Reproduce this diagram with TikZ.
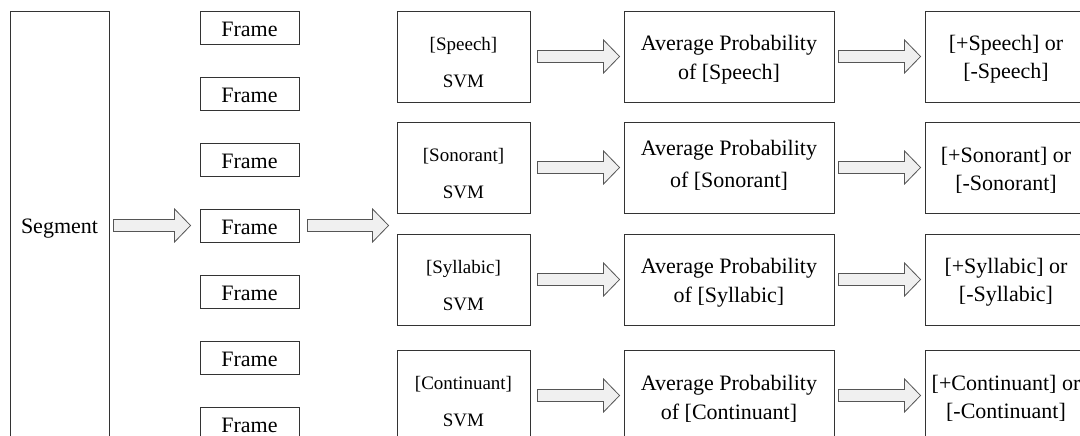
\documentclass[tikz,border=0pt]{standalone}
\usepackage{fontspec}
\setmainfont{Liberation Serif}
\usetikzlibrary{calc}
\definecolor{boxline}{HTML}{333333}
\definecolor{arrline}{HTML}{555555}
\definecolor{arrfill}{HTML}{F0F0F0}
\tikzset{
  box/.style={draw=boxline, line width=0.9pt, rectangle, inner sep=0pt, align=center,
              font=\fontsize{22}{29}\selectfont},
  segbox/.style={box, minimum width=99pt, minimum height=429pt, text height=15pt, text depth=0pt},
  framebox/.style={box, minimum width=99pt, minimum height=33pt, text height=18.5pt, text depth=0pt},
  svmbox/.style={box, minimum width=133pt, minimum height=91pt},
  avgbox/.style={box, minimum width=210pt, minimum height=91pt},
  resbox/.style={box, minimum width=162pt, minimum height=91pt},
  lab/.style={inner sep=0pt, align=center},
  svmlab/.style={lab, font=\fontsize{19}{37}\selectfont, yshift=-6pt},
  avglab/.style={lab, font=\fontsize{22}{29}\selectfont, yshift=-3pt},
  avglabwide/.style={lab, font=\fontsize{22}{32}\selectfont, yshift=2.5pt},
  reslab/.style={lab, font=\fontsize{22}{28}\selectfont, yshift=-2.5pt},
  barrow/.style={draw=arrline, fill=arrfill, line width=0.8pt, line join=miter}
}
\newcommand\blockarrow[4]{%
  \draw[barrow] let \p1=(#1.east), \p2=(#2.west) in
    ($(\x1,\y1)+(#3pt,6pt)$) -- ($(\x2,\y1)+(-#4pt-16pt,6pt)$) -- ($(\x2,\y1)+(-#4pt-16pt,16.5pt)$)
    -- ($(\x2,\y1)+(-#4pt,0pt)$) -- ($(\x2,\y1)+(-#4pt-16pt,-16.5pt)$) -- ($(\x2,\y1)+(-#4pt-16pt,-6pt)$)
    -- ($(\x1,\y1)+(#3pt,-6pt)$) -- cycle;}
\begin{document}
\begin{tikzpicture}[x=1pt, y=-1pt]
\useasboundingbox (0,0) rectangle (1080,436);
\clip (0,0) rectangle (1080,436);
\fill[white] (0,0) rectangle (1080,436);
% segment
\node[segbox] (seg) at (59.5,225.5) {Segment};
% frames
\foreach \i in {1,...,7} {
  \node[framebox] (f\i) at (249.5,{27.5+66*(\i-1)}) {Frame};
}
% SVM column
\node[svmbox, label={[svmlab]center:{[Speech]\\{}SVM}}] (s1) at (463.5,56.5) {};
\node[svmbox, label={[svmlab]center:{[Sonorant]\\{}SVM}}] (s2) at (463.5,167.5) {};
\node[svmbox, label={[svmlab]center:{[Syllabic]\\{}SVM}}] (s3) at (463.5,279.5) {};
\node[svmbox, label={[svmlab]center:{[Continuant]\\{}SVM}}] (s4) at (463.5,395.5) {};
% average probability column
\node[avgbox, label={[avglab]center:{Average Probability\\{}of [Speech]}}] (a1) at (729,56.5) {};
\node[avgbox, label={[avglabwide]center:{Average Probability\\{}of [Sonorant]}}] (a2) at (729,167.5) {};
\node[avgbox, label={[avglab]center:{Average Probability\\{}of [Syllabic]}}] (a3) at (729,279.5) {};
\node[avgbox, label={[avglab]center:{Average Probability\\{}of [Continuant]}}] (a4) at (729,395.5) {};
% result column
\node[resbox, label={[reslab]center:{[+Speech] or\\{}[-Speech]}}] (r1) at (1006,56.5) {};
\node[resbox, label={[reslab]center:{[+Sonorant] or\\{}[-Sonorant]}}] (r2) at (1006,167.5) {};
\node[resbox, label={[reslab]center:{[+Syllabic] or\\{}[-Syllabic]}}] (r3) at (1006,279.5) {};
\node[resbox, label={[reslab]center:{[+Continuant] or\\{}[-Continuant]}}] (r4) at (1006,395.5) {};
% arrows
\blockarrow{seg}{f4}{4}{9}
\blockarrow{f4}{s2}{8}{8}
\foreach \k in {1,2,3,4} {
  \blockarrow{s\k}{a\k}{7}{4}
  \blockarrow{a\k}{r\k}{4}{4}
}
\end{tikzpicture}
\end{document}
